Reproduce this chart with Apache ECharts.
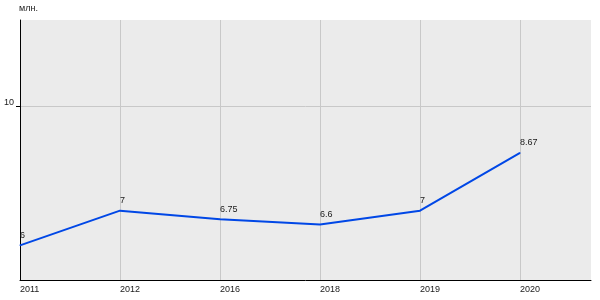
<!DOCTYPE html>
<html>
<head>
<meta charset="utf-8">
<script src="https://cdn.jsdelivr.net/npm/echarts@6/dist/echarts.min.js"></script>
<style>html,body{margin:0;padding:0;background:#fff}#c{width:600px;height:300px}</style>
</head>
<body>
<div id="c"></div>
<script>
const categories = ['2011', '2012', '2016', '2018', '2019', '2020'];
const values = [6, 7, 6.75, 6.6, 7, 8.67];
const unitName = 'млн.';

const chart = echarts.init(document.getElementById('c'), null, {renderer: 'canvas'});
const font = 'Liberation Sans, Arial, sans-serif';
chart.setOption({
  animation: false,
  grid: {left: 20, right: 9, top: 20, bottom: 20, show: true, backgroundColor: '#ebebeb', borderWidth: 0},
  xAxis: {
    type: 'value', min: 0, max: 5.71, interval: 1,
    axisLine: {show: true, onZero: false, lineStyle: {color: '#000', width: 1}},
    axisTick: {show: false},
    splitLine: {show: true, showMinLine: false, showMaxLine: false, lineStyle: {color: '#c8c8c8', width: 1}},
    axisLabel: {
      color: '#1a1a1a', fontFamily: font, fontSize: 9, align: 'left', margin: 5,
      showMaxLabel: false,
      formatter: v => (Number.isInteger(v) && categories[v] !== undefined) ? categories[v] : ''
    }
  },
  yAxis: {
    type: 'value', min: 5, max: 12.5, interval: 5,
    name: unitName, nameLocation: 'end', nameGap: 7,
    nameTextStyle: {color: '#1a1a1a', fontFamily: font, fontSize: 9, align: 'left', padding: [0, 0, 0, -1]},
    axisLine: {show: true, lineStyle: {color: '#000', width: 1}},
    axisTick: {show: true, length: 4, lineStyle: {color: '#000'}},
    splitLine: {show: true, showMinLine: false, showMaxLine: false, lineStyle: {color: '#c8c8c8', width: 1}},
    axisLabel: {
      color: '#1a1a1a', fontFamily: font, fontSize: 9, margin: 6,
      showMinLabel: false, showMaxLabel: false,
      verticalAlign: 'bottom', lineHeight: 9
    }
  },
  series: [{
    type: 'line',
    data: values.map((v, i) => [i, v]),
    showSymbol: true,
    symbol: 'circle',
    symbolSize: 1,
    lineStyle: {color: '#0047e6', width: 2},
    itemStyle: {color: '#0047e6'},
    label: {
      show: true, position: 'top', align: 'left', distance: 5,
      color: '#1a1a1a', fontFamily: font, fontSize: 9,
      formatter: p => String(p.value[1])
    }
  }]
});
</script>
</body>
</html>
